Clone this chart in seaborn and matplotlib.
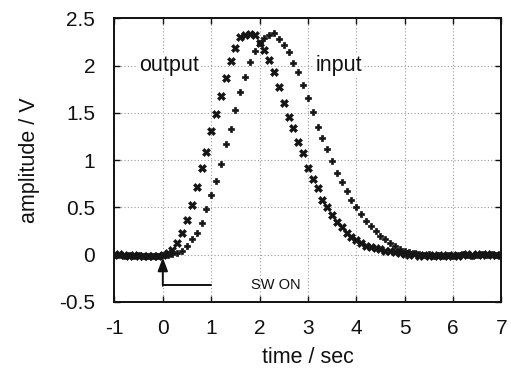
import matplotlib
matplotlib.use("Agg")
import matplotlib.pyplot as plt
import seaborn as sns
import pandas as pd

time_s = [-1.0, -0.9, -0.8, -0.7, -0.6, -0.5, -0.4, -0.3, -0.2, -0.1,
          0.0, 0.1, 0.2, 0.3, 0.4, 0.5, 0.6, 0.7, 0.8, 0.9,
          1.0, 1.1, 1.2, 1.3, 1.4, 1.5, 1.6, 1.7, 1.8, 1.9,
          2.0, 2.1, 2.2, 2.3, 2.4, 2.5, 2.6, 2.7, 2.8, 2.9,
          3.0, 3.1, 3.2, 3.3, 3.4, 3.5, 3.6, 3.7, 3.8, 3.9,
          4.0, 4.1, 4.2, 4.3, 4.4, 4.5, 4.6, 4.7, 4.8, 4.9,
          5.0, 5.1, 5.2, 5.3, 5.4, 5.5, 5.6, 5.7, 5.8, 5.9,
          6.0, 6.1, 6.2, 6.3, 6.4, 6.5, 6.6, 6.7, 6.8, 6.9,
          7.0]

output_v = [0.00, 0.01, 0.00, -0.01, 0.00, -0.01, -0.01, -0.02, -0.02, -0.01,
            0.00, 0.02, 0.05, 0.12, 0.23, 0.37, 0.53, 0.72, 0.92, 1.09,
            1.31, 1.49, 1.68, 1.87, 2.05, 2.19, 2.30, 2.33, 2.34, 2.33,
            2.24, 2.17, 2.06, 1.93, 1.77, 1.60, 1.46, 1.34, 1.19, 1.08,
            0.92, 0.80, 0.70, 0.58, 0.50, 0.42, 0.35, 0.29, 0.23, 0.19,
            0.15, 0.12, 0.09, 0.08, 0.07, 0.06, 0.04, 0.04, 0.03, 0.02,
            0.01, 0.00, 0.01, -0.01, 0.00, -0.01, 0.00, -0.02, 0.00, -0.01,
            0.00, -0.01, 0.00, 0.01, 0.00, 0.01, 0.00, 0.01, 0.00, 0.00,
            0.00]

input_v = [0.00, 0.00, -0.01, 0.00, -0.01, 0.00, -0.01, -0.01, -0.02, -0.01,
           0.00, 0.00, 0.01, 0.02, 0.04, 0.09, 0.16, 0.23, 0.33, 0.48,
           0.63, 0.78, 0.96, 1.17, 1.33, 1.53, 1.72, 1.88, 2.04, 2.16,
           2.24, 2.29, 2.32, 2.35, 2.28, 2.22, 2.15, 2.03, 1.93, 1.80,
           1.66, 1.51, 1.35, 1.23, 1.12, 0.99, 0.86, 0.77, 0.67, 0.58,
           0.50, 0.43, 0.36, 0.30, 0.25, 0.20, 0.17, 0.12, 0.09, 0.06,
           0.04, 0.03, 0.02, 0.01, 0.00, 0.01, -0.01, 0.00, -0.01, 0.00,
           -0.01, 0.00, 0.01, 0.00, -0.01, 0.00, 0.01, 0.00, 0.01, 0.00,
           0.01]

x_ticks = [-1, 0, 1, 2, 3, 4, 5, 6, 7]
y_ticks = [-0.5, 0, 0.5, 1, 1.5, 2, 2.5]
x_tick_labels = ["-1", "0", "1", "2", "3", "4", "5", "6", "7"]
y_tick_labels = ["-0.5", "0", "0.5", "1", "1.5", "2", "2.5"]

sns.set_style("ticks")
plt.rcParams['font.family'] = ['Liberation Sans', 'DejaVu Sans']

fig = plt.figure(figsize=(5.11, 3.69), dpi=100)
ax = fig.add_axes([0.224, 0.182, 0.757, 0.768])

df = pd.DataFrame({"time": time_s, "output": output_v, "input": input_v})

ink = "#151515"
sns.scatterplot(data=df, x="time", y="input", marker="P", s=22, color=ink,
                edgecolor=ink, linewidth=0.5, ax=ax, zorder=3)
sns.scatterplot(data=df, x="time", y="output", marker="X", s=34, color=ink,
                edgecolor=ink, linewidth=0.4, ax=ax, zorder=3)

ax.set_xlim(-1, 7)
ax.set_ylim(-0.5, 2.5)
ax.set_xticks(x_ticks)
ax.set_xticklabels(x_tick_labels)
ax.set_yticks(y_ticks)
ax.set_yticklabels(y_tick_labels)
ax.grid(True, linestyle=(0, (1, 2)), color="#999999", linewidth=0.8)
ax.tick_params(direction="in", length=4, width=1, top=True, right=True,
               labelsize=15, colors="#111111")
ax.tick_params(axis="x", pad=12)
ax.tick_params(axis="y", pad=14)
for sp in ax.spines.values():
    sp.set_visible(True)
    sp.set_linewidth(1.4)
    sp.set_color("#111111")

ax.set_xlabel("time / sec", fontsize=15.5, color="#111111", labelpad=7)
ax.set_ylabel("amplitude / V", fontsize=15.5, color="#111111", labelpad=14)

ax.text(-0.5, 2.0, "output", fontsize=15.5, ha="left", va="center",
        color="#111111", zorder=4,
        bbox=dict(facecolor="white", edgecolor="none", pad=0.5))
ax.text(3.15, 2.0, "input", fontsize=15.5, ha="left", va="center",
        color="#111111", zorder=4,
        bbox=dict(facecolor="white", edgecolor="none", pad=0.5))

ax.plot([0, 1], [-0.32, -0.32], color="#111111", linewidth=1.4, zorder=4)
ax.annotate("", xy=(0, -0.03), xytext=(0, -0.33),
            arrowprops=dict(arrowstyle="-|>,head_length=0.8,head_width=0.3",
                            color="#111111", lw=1.4, shrinkA=0, shrinkB=0),
            zorder=4)
ax.text(1.82, -0.32, "SW ON", fontsize=10.5, ha="left", va="center",
        color="#111111", zorder=4)

fig.savefig("out.png", dpi=100)
